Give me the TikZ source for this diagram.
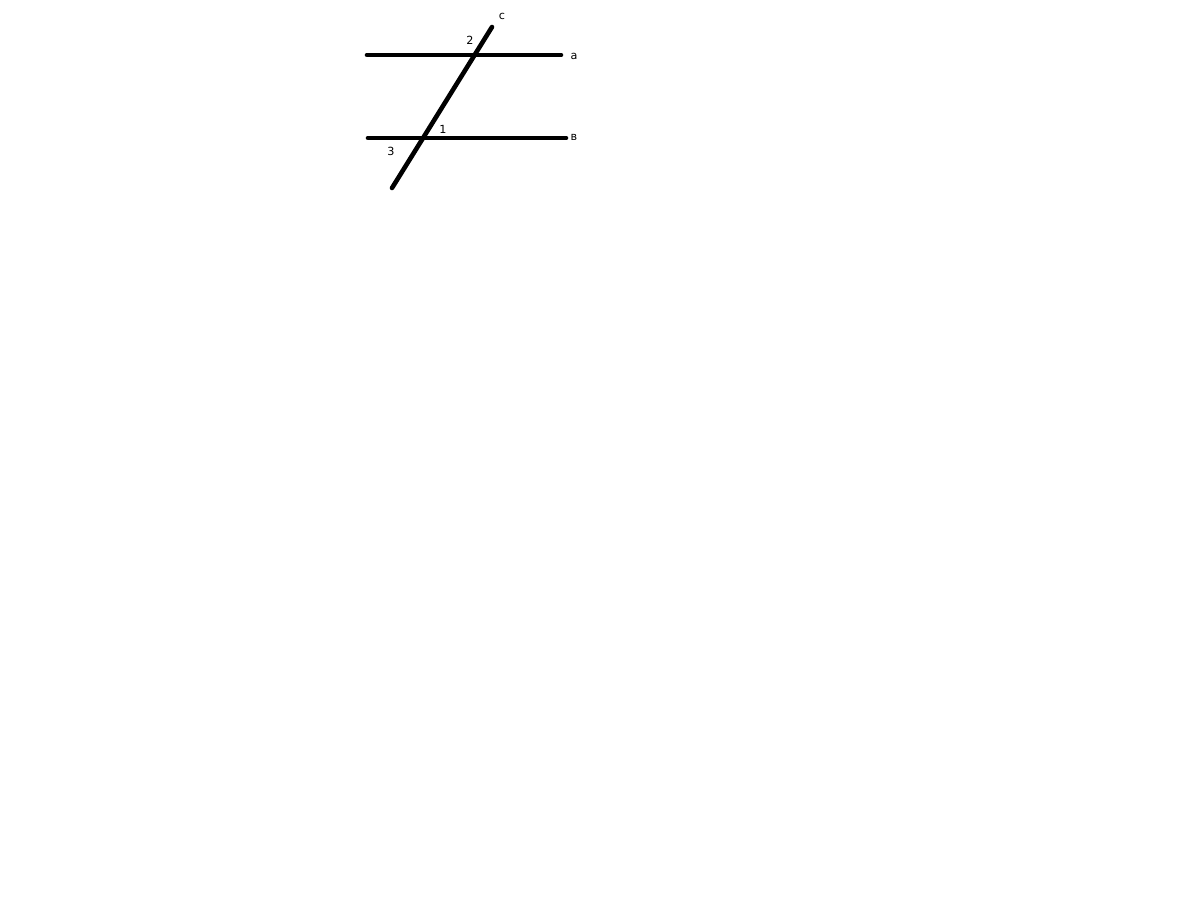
\documentclass[tikz,border=0pt]{standalone}
\usepackage{fontspec}
\setmainfont{DejaVu Sans}
\usepackage{tikz}
\tikzset{
    line/.style={line width=2.3pt, line cap=round},
    lbl/.style={inner sep=0pt, font=\fontsize{5.6}{6}\selectfont}
}

\begin{document}
\begin{tikzpicture}[x=0.5pt,y=-0.5pt]
\useasboundingbox (0,0) rectangle (1200,900);
\foreach \x/\y/\p in {367/55/a1, 561/55/a2, 368/138/b1, 566/138/b2, 392/188/c1, 492/27/c2}{
    \coordinate (\p) at (\x,\y);
}
\draw[line] (a1) -- (a2);
\draw[line] (b1) -- (b2);
\draw[line] (c1) -- (c2);
\foreach \x/\y/\p/\labeltext in {574/56/la/{a}, 574/137/lb/{в}, 502/16/lc/{c}, 470/40/l2/{2}, 443/129/l1/{1}, 391/151/l3/{3}}{
    \node[lbl] (\p) at (\x,\y) {\labeltext};
}
\end{tikzpicture}
\end{document}
